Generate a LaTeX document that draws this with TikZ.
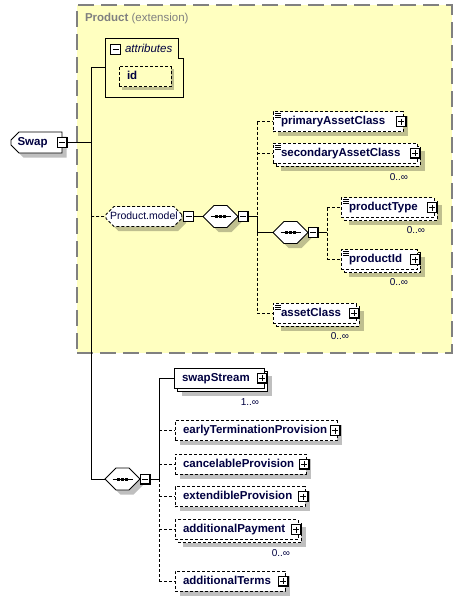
\documentclass[tikz,border=0pt]{standalone}
\usepackage{fontspec}
\setmainfont{Liberation Sans}
\usetikzlibrary{shapes.misc,positioning}
\definecolor{navy}{RGB}{0,0,64}
\definecolor{panel}{RGB}{255,255,192}
\definecolor{rimgray}{RGB}{128,128,128}
\tikzset{
  tog/.style={draw, fill=white, minimum size=10pt, line width=0.9pt},
  minusbox/.style={tog, path picture={
    \draw[solid, black, line width=1.6pt] (path picture bounding box.north east) -- (path picture bounding box.south east) -- (path picture bounding box.south west);
    \draw[solid, black, line width=0.9pt] ([xshift=2pt]path picture bounding box.west) -- ([xshift=-2pt]path picture bounding box.east);}},
  plusbox/.style={tog, path picture={
    \draw[solid, black, line width=1.6pt] (path picture bounding box.north east) -- (path picture bounding box.south east) -- (path picture bounding box.south west);
    \draw[solid, black, line width=0.9pt] ([xshift=2pt]path picture bounding box.west) -- ([xshift=-2pt]path picture bounding box.east);
    \draw[solid, black, line width=0.9pt] ([yshift=-2pt]path picture bounding box.north) -- ([yshift=2pt]path picture bounding box.south);}}
}
\begin{document}
\begin{tikzpicture}[x=1pt, y=-1pt, line width=0.9pt,
  every node/.style={inner sep=0pt, outer sep=0pt},
  opt/.style={dash pattern=on 3pt off 2pt},
  elem/.style={draw, fill=white, anchor=west, align=left, text=navy,
    font=\fontsize{11.5}{13}\selectfont\bfseries, inner xsep=8pt,
    minimum height=20pt, text height=8.5pt, text depth=2.5pt},
  simple/.style={path picture={\foreach \k in {2,4,6}
    \draw[solid, black, line width=0.6pt] ([shift={(2pt,-\k pt)}]path picture bounding box.north west) -- ++(6,0);}},
  swapshape/.style={elem, chamfered rectangle, chamfered rectangle corners={north west,south west},
    chamfered rectangle xsep=4pt, chamfered rectangle ysep=4pt, inner xsep=0pt, text width=38pt,
    minimum width=51pt, minimum height=21pt},
  pmshape/.style={elem, opt, chamfered rectangle, chamfered rectangle xsep=4pt, chamfered rectangle ysep=4pt,
    inner xsep=0pt, font=\fontsize{10.5}{13}\selectfont, minimum width=74pt},
  seqshape/.style={draw, fill=white, anchor=west, chamfered rectangle,
    chamfered rectangle xsep=6pt, chamfered rectangle ysep=6pt, text width=22pt, text height=5pt, text depth=5pt,
    minimum width=35pt, minimum height=22pt},
  seqbox/.style={seqshape, path picture={
      \draw[solid, black] ([xshift=-10pt]path picture bounding box.center) -- ([xshift=10pt]path picture bounding box.center);
      \foreach \d in {-4,0,4}
        \fill[black] ([xshift=\d pt]path picture bounding box.center) +(-1.5,-1.5) rectangle +(1.5,1.5);}},
  shadowbox/.style={draw=none, fill=black, fill opacity=0.25},
  mult/.style={anchor=east, text=navy, font=\fontsize{10}{12}\selectfont}]
\useasboundingbox (0,0) rectangle (462,602);

% extension panel
\node[fill=panel, draw=rimgray, line width=1.5pt, dash pattern=on 16pt off 7pt,
  anchor=north west, minimum width=375pt, minimum height=348pt] (ext) at (77,5) {};
\node[anchor=west, text=rimgray, font=\fontsize{11.5}{13}\selectfont] (extlbl) at (85,19) {\textbf{Product} (extension)};

% attributes
\node[anchor=north west, minimum width=78pt, minimum height=59pt] (attr) at (105,38) {};
\draw (attr.north west) -| ([xshift=-5pt,yshift=-20pt]attr.north east) -| (attr.south east) -- (attr.south west) -- cycle;
\node[minusbox] (attrt) at (115.5,49.5) {};
\node[anchor=west, text=navy, font=\fontsize{11.5}{13}\selectfont\itshape] (attrlbl) at (125,48.5) {attributes};
\node[elem, shadowbox, text width=36pt] (id-sh) at (122,79.5) {};
\node[elem, opt, fill=panel, text width=36pt] (id) at (119,76.5) {id};

% root
\node[swapshape, shadowbox] (swap-sh) at (15.5,147) {};
\node[swapshape] (swap) at (11,142.5) {Swap};
\node[minusbox] (swapt) at (swap.east) {};

% Product.model group
\node[pmshape, shadowbox] (pm-sh) at (110.5,221) {\phantom{Product.model}};
\node[pmshape] (pm) at (106,216.5) {Product.model};
\node[minusbox, right=2pt of pm] (pmt) {};
\node[seqshape, shadowbox] (s1-sh) at (207.5,221) {};
\node[seqbox] (s1) at (203,216.5) {};
\node[minusbox, right=0pt of s1] (s1t) {};
\node[seqshape, shadowbox] (s2-sh) at (277.5,237) {};
\node[seqbox] (s2) at (273,232.5) {};
\node[minusbox, right=0pt of s2] (s2t) {};

\node[elem, shadowbox, text width=114pt] (pac-sh) at (277.5,126) {};
\node[elem, opt, simple, text width=114pt] (pac) at (273,121.5) {primaryAssetClass};
\node[elem, shadowbox, text width=128pt] (sac-sh) at (280.5,160.5) {};
\node[elem, opt, text width=128pt] (sac-b) at (276,156) {};
\node[elem, opt, simple, text width=128pt] (sac) at (273,153) {secondaryAssetClass};
\node[elem, shadowbox, text width=77pt] (ptype-sh) at (348.5,215) {};
\node[elem, opt, text width=77pt] (ptype-b) at (344,210.5) {};
\node[elem, opt, simple, text width=77pt] (ptype) at (341,207.5) {productType};
\node[elem, shadowbox, text width=60pt] (pid-sh) at (348.5,267) {};
\node[elem, opt, text width=60pt] (pid-b) at (344,262.5) {};
\node[elem, opt, simple, text width=60pt] (pid) at (341,259.5) {productId};
\node[elem, shadowbox, text width=67pt] (ac-sh) at (280.5,320.5) {};
\node[elem, opt, text width=67pt] (ac-b) at (276,316) {};
\node[elem, opt, simple, text width=67pt] (ac) at (273,313) {assetClass};

% swap content
\node[seqshape, shadowbox] (s3-sh) at (109.5,483.5) {};
\node[seqbox] (s3) at (105,479) {};
\node[minusbox, right=0pt of s3] (s3t) {};
\node[elem, shadowbox, text width=74pt] (ss-sh) at (181.5,385.5) {};
\node[elem, text width=74pt] (ss-b) at (177,381) {};
\node[elem, text width=74pt] (ss) at (174,378) {swapStream};
\node[elem, shadowbox, text width=146pt] (etp-sh) at (179.5,435) {};
\node[elem, opt, text width=146pt] (etp) at (175,430.5) {earlyTerminationProvision};
\node[elem, shadowbox, text width=115pt] (cp-sh) at (179.5,468.5) {};
\node[elem, opt, text width=115pt] (cp) at (175,464) {cancelableProvision};
\node[elem, shadowbox, text width=114pt] (ep-sh) at (179.5,501) {};
\node[elem, opt, text width=114pt] (ep) at (175,496.5) {extendibleProvision};
\node[elem, shadowbox, text width=107pt] (ap-sh) at (182.5,537) {};
\node[elem, opt, text width=107pt] (ap-b) at (178,532.5) {};
\node[elem, opt, text width=107pt] (ap) at (175,529.5) {additionalPayment};
\node[elem, shadowbox, text width=94pt] (addt-sh) at (179.5,585.5) {};
\node[elem, opt, text width=94pt] (addt) at (175,581) {additionalTerms};

\node[plusbox] (pac-t) at ([xshift=-2pt]pac.east) {};
\node[plusbox] (sac-t) at ([xshift=-2pt]sac.east) {};
\node[plusbox] (ptype-t) at ([xshift=-2pt]ptype.east) {};
\node[plusbox] (pid-t) at ([xshift=-2pt]pid.east) {};
\node[plusbox] (ac-t) at ([xshift=-2pt]ac.east) {};
\node[plusbox] (ss-t) at ([xshift=-2pt]ss.east) {};
\node[plusbox] (etp-t) at ([xshift=-2pt]etp.east) {};
\node[plusbox] (cp-t) at ([xshift=-2pt]cp.east) {};
\node[plusbox] (ep-t) at ([xshift=-2pt]ep.east) {};
\node[plusbox] (ap-t) at ([xshift=-2pt]ap.east) {};
\node[plusbox] (addt-t) at ([xshift=-2pt]addt.east) {};

\node[mult] (sac-n) at ([xshift=-9pt,yshift=-14pt]sac.south east) {0..∞};
\node[mult] (ptype-n) at ([xshift=-9pt,yshift=-13pt]ptype.south east) {0..∞};
\node[mult] (pid-n) at ([xshift=-9pt,yshift=-13pt]pid.south east) {0..∞};
\node[mult] (ac-n) at ([xshift=-7pt,yshift=-13pt]ac.south east) {0..∞};
\node[mult] (ss-n) at ([xshift=-5pt,yshift=-14pt]ss.south east) {1..∞};
\node[mult] (ap-n) at ([xshift=-8pt,yshift=-14pt]ap.south east) {0..∞};

% connectors
\coordinate (trunk) at (91,0);
\coordinate (bus1) at (257,0);
\coordinate (bus2) at (327,0);
\coordinate (bus3) at (159,0);
\draw (swapt) -- (trunk |- swapt);
\draw (attr.west) -- (trunk |- attr.west) -- (trunk |- s3.west) -- (s3);
\draw[opt] (trunk |- pm.west) -- (pm);
\draw (pmt) -- (s1);
\draw (s1t) -- (bus1 |- s1t) -- (bus1 |- s2.west) -- (s2);
\draw[opt] (bus1 |- pac.west) -- (bus1 |- s1t);
\draw[opt] (bus1 |- s2.west) -- (bus1 |- ac.west);
\draw[opt] (bus1 |- pac.west) -- (pac);
\draw[opt] (bus1 |- sac.west) -- (sac);
\draw[opt] (bus1 |- ac.west) -- (ac);
\draw (s2t) -- (bus2 |- s2t);
\draw[opt] (bus2 |- ptype.west) -- (bus2 |- pid.west);
\draw[opt] (bus2 |- ptype.west) -- (ptype);
\draw[opt] (bus2 |- pid.west) -- (pid);
\draw (s3t) -- (bus3 |- s3t) -- (bus3 |- ss.west) -- (ss);
\draw[opt] (bus3 |- s3t) -- (bus3 |- addt.west);
\draw[opt] (bus3 |- etp.west) -- (etp);
\draw[opt] (bus3 |- cp.west) -- (cp);
\draw[opt] (bus3 |- ep.west) -- (ep);
\draw[opt] (bus3 |- ap.west) -- (ap);
\draw[opt] (bus3 |- addt.west) -- (addt);
\end{tikzpicture}
\end{document}
